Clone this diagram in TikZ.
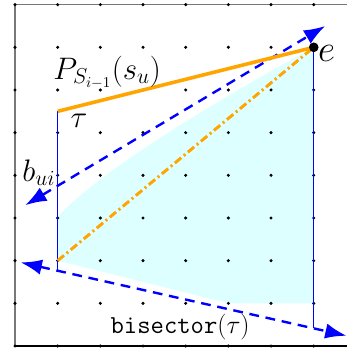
\documentclass[tikz,border=0pt]{standalone}
\usetikzlibrary{arrows.meta}
\definecolor{myorange}{RGB}{255,165,0}
\definecolor{mycyan}{RGB}{222,255,255}
\definecolor{framegray}{RGB}{120,120,120}
\tikzset{
  gdot/.style={circle,fill=black,inner sep=0pt,minimum size=0.08cm},
  edot/.style={circle,fill=black,inner sep=0pt,minimum size=0.22cm},
  bigtip/.tip={Latex[length=0.5cm,width=0.36cm]},
  bluedash/.style={blue,line width=1.6pt,dash pattern=on 6.5pt off 4.5pt,bigtip-bigtip},
  bluethin/.style={blue,line width=1pt},
  orangesolid/.style={myorange,line width=2.4pt},
  orangedashdot/.style={myorange,line width=2pt,dash pattern=on 5.5pt off 2.2pt on 1.4pt off 2.2pt},
  lbl/.style={inner sep=0pt,font=\fontsize{20}{24}\selectfont},
}
\begin{document}
\begin{tikzpicture}[x=1cm,y=1cm]
\useasboundingbox (-0.352,-0.070) rectangle (7.781,8.109);
% region
\fill[mycyan] (1,2) -- (1,3.03) .. controls (1.847,3.933) and (3.847,5.267) .. (7,7) -- (7,1) -- (5,1) -- cycle;
% frame
\draw[framegray,line width=1.4pt] (0,0) -- (0,8);
\draw[framegray,line width=1pt] (0,8) -- (7.781,8);
\draw[black,line width=0.8pt] (0,0) -- (7.781,0);
% grid dots
\foreach \i in {0,...,7}{
  \foreach \j in {0,...,8}{
    \node[gdot] (d\i\j) at (\i,\j) {};
  }
}
% key points
\coordinate (tau) at (1,5.5);
\coordinate (p2) at (1,2);
\coordinate (bl) at (1,1.77);
\coordinate (br) at (7,0.415);
\coordinate (a1) at (0.24,3.3);
\coordinate (a2) at (7.27,7.5);
\coordinate (b1) at (0.13,1.96);
\coordinate (b2) at (7.77,0.24);
\node[edot] (e) at (7,7) {};
% lines
\draw[bluethin] (tau) -- (bl);
\draw[bluethin] (e.center) -- (br);
\draw[orangedashdot] (p2) -- (e.center);
\draw[bluedash] (a1) -- (a2);
\draw[bluedash] (b1) -- (b2);
\draw[orangesolid] (tau) -- (e.center);
\node[edot] (e2) at (e.center) {};
% labels
\node[lbl] (lP) at (2.16,6.42) {$P_{S_{i-1}}(s_u)$};
\node[lbl] (ltau) at (1.5,5.27) {$\tau$};
\node[lbl] (lb) at (0.56,4.06) {$b_{ui}$};
\node[lbl,font=\fontsize{23}{26}\selectfont] (le) at (7.3,6.86) {$e$};
\node[lbl,font=\LARGE] (lbis) at (3.87,0.45) {\texttt{bisector}$(\tau)$};
\end{tikzpicture}
\end{document}
